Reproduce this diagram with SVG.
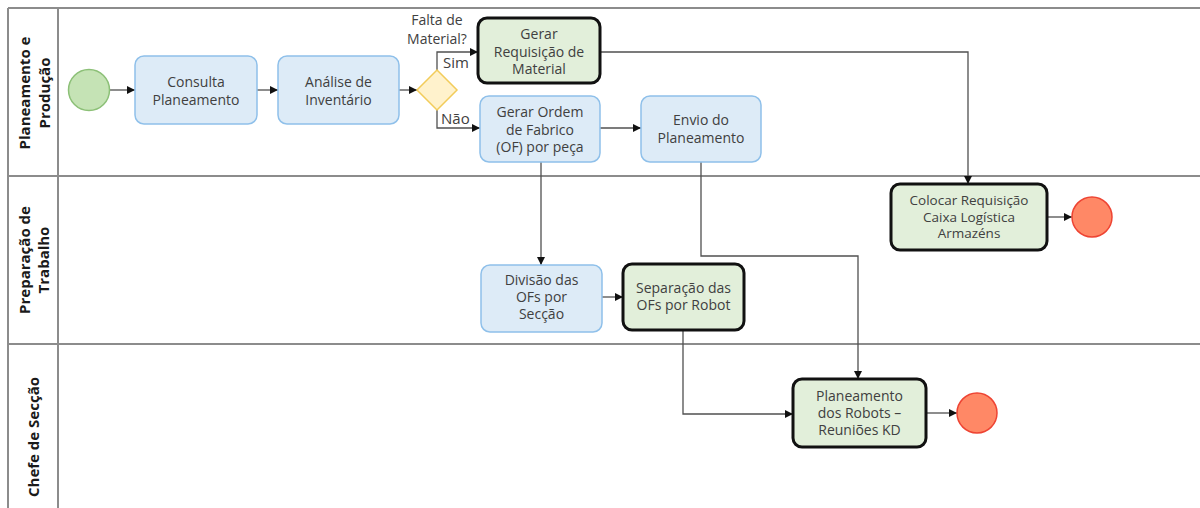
<svg xmlns="http://www.w3.org/2000/svg" width="1200" height="508" viewBox="0 0 1200 508">
<style>
.lane{stroke:#8c8c8c;stroke-width:2;fill:none}
.lt{font-family:"Open Sans","Liberation Sans",sans-serif;font-weight:bold;font-size:15px;fill:#1a1a1a;text-anchor:middle}
.t{font-family:"Open Sans","Liberation Sans",sans-serif;font-size:14px;fill:#404040;text-anchor:middle}
.lbl{font-family:"Open Sans","Liberation Sans",sans-serif;font-size:15px;fill:#404040}
.task{fill:#ddebf7;stroke:#8fc0ea;stroke-width:1.5}
.task2{fill:#e2efda;stroke:#111;stroke-width:3}
.start{fill:#c5e3b5;stroke:#8cc077;stroke-width:1.5}
.end{fill:#ff8866;stroke:#ee4433;stroke-width:1.5}
.gw{fill:#fff2cc;stroke:#f2cc5a;stroke-width:1.5}
.c{fill:none;stroke:#505050;stroke-width:1.3}
</style>
<defs>
<marker id="a" viewBox="0 0 10 10" refX="10" refY="5" markerWidth="8" markerHeight="8" markerUnits="userSpaceOnUse" orient="auto">
<path d="M0,0 L10,5 L0,10 z" fill="#111"/>
</marker>
</defs>
<rect width="1200" height="508" fill="#fff"/>
<g id="lanes">
<path class="lane" d="M8,8 H1200 M8,176 H1200 M8,344 H1200 M8,8 V508 M58,8 V508"/>
<text class="lt" transform="translate(30,93) rotate(-90)">Planeamento e<tspan x="0" dy="20">Produção</tspan></text>
<text class="lt" transform="translate(30,260) rotate(-90)">Preparação de<tspan x="0" dy="19">Trabalho</tspan></text>
<text class="lt" transform="translate(39,437) rotate(-90)">Chefe de Secção</text>
</g>
<g id="connectors">
<path class="c" d="M110,90 H135" marker-end="url(#a)"/>
<path class="c" d="M257,90 H278" marker-end="url(#a)"/>
<path class="c" d="M399,90 H417" marker-end="url(#a)"/>
<path class="c" d="M437,70 V52 H478" marker-end="url(#a)"/>
<path class="c" d="M437,110 V128 H480" marker-end="url(#a)"/>
<path class="c" d="M600,52 H968 V184" marker-end="url(#a)"/>
<path class="c" d="M600,128 H641" marker-end="url(#a)"/>
<path class="c" d="M541,162 V265" marker-end="url(#a)"/>
<path class="c" d="M602,297 H623" marker-end="url(#a)"/>
<path class="c" d="M701,162 V256 H858 V379" marker-end="url(#a)"/>
<path class="c" d="M683,330 V414 H793" marker-end="url(#a)"/>
<path class="c" d="M1047,217 H1072" marker-end="url(#a)"/>
<path class="c" d="M926,413 H957" marker-end="url(#a)"/>
<text class="lbl" x="443" y="68">Sim</text>
<text class="lbl" x="441" y="124">Não</text>
</g>
<g id="start"><circle class="start" cx="89" cy="90" r="20.5"/></g>
<g id="consulta"><rect class="task" x="135" y="56" width="122" height="68" rx="9"/><text class="t" x="196" y="87">Consulta<tspan x="196" dy="17.5">Planeamento</tspan></text></g>
<g id="analise"><rect class="task" x="278" y="56" width="121" height="68" rx="9"/><text class="t" x="338.5" y="87">Análise de<tspan x="338.5" dy="17.5">Inventário</tspan></text></g>
<g id="gateway"><path class="gw" d="M437,70 L457,90 L437,110 L417,90 Z"/><text class="t" x="437" y="25">Falta de<tspan x="437" dy="19">Material?</tspan></text></g>
<g id="gerar-req"><rect class="task2" x="478" y="18" width="122" height="65" rx="9"/><text class="t" x="539" y="39">Gerar<tspan x="539" dy="17.5">Requisição de</tspan><tspan x="539" dy="17.5">Material</tspan></text></g>
<g id="gerar-of"><rect class="task" x="480" y="96" width="120" height="66" rx="9"/><text class="t" x="540" y="117">Gerar Ordem<tspan x="540" dy="17.5">de Fabrico</tspan><tspan x="540" dy="17.5">(OF) por peça</tspan></text></g>
<g id="envio"><rect class="task" x="641" y="96" width="120" height="66" rx="9"/><text class="t" x="701" y="125">Envio do<tspan x="701" dy="17.5">Planeamento</tspan></text></g>
<g id="colocar"><rect class="task2" x="891" y="184" width="156" height="66" rx="9"/><text class="t" x="969" y="205" style="font-size:13.5px">Colocar Requisição<tspan x="969" dy="16.5">Caixa Logística</tspan><tspan x="969" dy="16.5">Armazéns</tspan></text></g>
<g id="end1"><circle class="end" cx="1092" cy="217" r="20"/></g>
<g id="divisao"><rect class="task" x="481" y="265" width="121" height="67" rx="9"/><text class="t" x="541.5" y="285">Divisão das<tspan x="541.5" dy="17">OFs por</tspan><tspan x="541.5" dy="17">Secção</tspan></text></g>
<g id="separacao"><rect class="task2" x="623" y="264" width="121" height="66" rx="9"/><text class="t" x="683.5" y="293">Separação das<tspan x="683.5" dy="17">OFs por Robot</tspan></text></g>
<g id="planeamento-robots"><rect class="task2" x="793" y="379" width="133" height="68" rx="9"/><text class="t" x="859.5" y="401">Planeamento<tspan x="859.5" dy="17">dos Robots –</tspan><tspan x="859.5" dy="17">Reuniões KD</tspan></text></g>
<g id="end2"><circle class="end" cx="977" cy="413" r="20"/></g>
</svg>
